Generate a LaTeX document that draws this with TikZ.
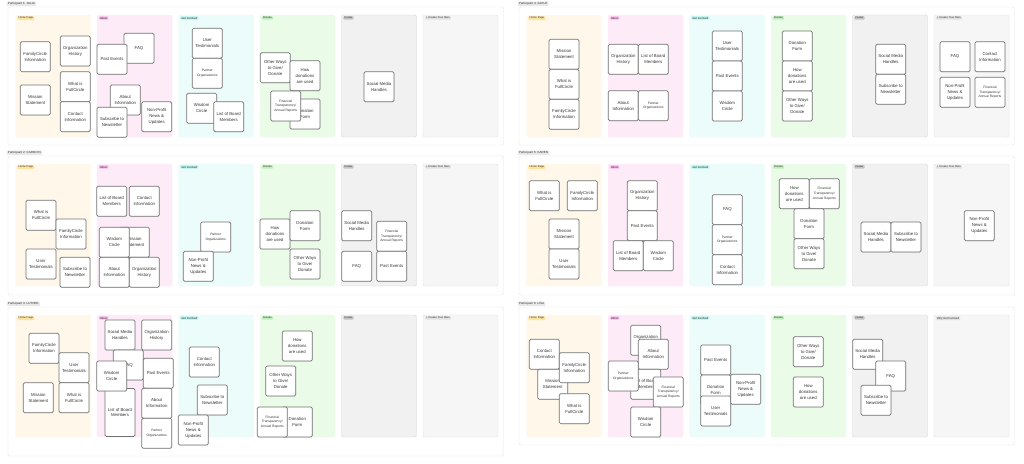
\documentclass[tikz,border=0pt]{standalone}
\usepackage{fontspec}
\setmainfont{Liberation Sans}
\usepackage{tikz}
\usetikzlibrary{shadows}
\definecolor{homefill}{HTML}{FFF8EA}
\definecolor{hometag}{HTML}{FDE49E}
\definecolor{aboutfill}{HTML}{FDEBF8}
\definecolor{abouttag}{HTML}{F6B8E8}
\definecolor{getfill}{HTML}{EBFCFA}
\definecolor{gettag}{HTML}{B6F0EB}
\definecolor{donatefill}{HTML}{EAFBE8}
\definecolor{donatetag}{HTML}{BEEFBB}
\definecolor{footfill}{HTML}{F1F1F1}
\definecolor{footdraw}{HTML}{D6D6D6}
\definecolor{foottag}{HTML}{C4C4C4}
\definecolor{ownfill}{HTML}{F6F6F6}
\definecolor{owndraw}{HTML}{E0E0E0}
\definecolor{owntag}{HTML}{E1E1E1}
\tikzset{
  panelframe/.style = {draw=black!10, fill=white, line width=0.45pt, rounded corners=1.5pt},
  column/.style     = {line width=0.45pt, rounded corners=2pt},
  parttag/.style    = {anchor=north west, fill=black!9, rounded corners=0.8pt,
                       inner xsep=1.3pt, inner ysep=0.7pt, text=black!80,
                       font=\fontsize{3}{3.5}\selectfont},
  coltag/.style     = {anchor=north west, rounded corners=0.8pt, inner xsep=1.1pt,
                       inner ysep=0.6pt, text=black!80, font=\fontsize{2.8}{3}\selectfont},
  card/.style       = {draw=black!55, fill=white, line width=0.7pt, rounded corners=1.4pt,
                       minimum width=30pt, minimum height=30pt, inner sep=0.8pt,
                       align=center, text=black!80, font=\fontsize{4.3}{5.9}\selectfont,
                       drop shadow={shadow xshift=0.3pt, shadow yshift=-0.5pt, opacity=0.2}},
  smallcard/.style  = {card, font=\fontsize{3.3}{4.8}\selectfont}
}
% one participant board: prefix, frame corner, frame height, title, last column
\newcommand{\sortpanel}[6]{%
  \begin{scope}[shift={(#2,#3)}]
    \draw[panelframe] (0,0) rectangle (495.5,#4);
    \node[parttag] (#1-title) at (-1.5,-5.5) {#5};
    \foreach \lbl/\colfill/\coldraw/\coltag [count=\ci from 0] in
      {Home Page/homefill/homefill/hometag, About/aboutfill/aboutfill/abouttag,
       Get Involved/getfill/getfill/gettag, Donate/donatefill/donatefill/donatetag,
       Footer/footfill/footdraw/foottag, {#6}/ownfill/owndraw/owntag}
    {
      \draw[column, fill=\colfill, draw=\coldraw] (7.5+81.5*\ci,8) rectangle ++(75,122);
      \node[coltag, fill=\coltag] (#1-tag\ci) at (9.2+81.5*\ci,9.2) {\lbl};
    }
  \end{scope}}

\begin{document}
\begin{tikzpicture}[x=1pt,y=-1pt]
  \useasboundingbox (0,0) rectangle (1024,463);
  \fill[white] (0,0) rectangle (1024,463);
  % the six boards
  \sortpanel{ju}{8}{7}{138}{Participant 1: JULIA}{+ Create Your Own}
  \sortpanel{ga}{519}{7}{138}{Participant 4: GAYLE}{+ Create Your Own}
  \sortpanel{ca}{8}{156}{139}{Participant 2: CAROLYN}{+ Create Your Own}
  \sortpanel{ka}{519}{156}{139}{Participant 5: KAREN}{+ Create Your Own}
  \sortpanel{lu}{8}{307}{149}{Participant 3: LUTHER}{+ Create Your Own}
  \sortpanel{li}{519}{307}{138}{Participant 6: LISA}{Why Get Involved}

  % JULIA
  \node[card] (ju-fam) at (35.3,56.7) {FamilyCircle\\Information};
  \node[card] (ju-mis) at (35.3,100) {Mission\\Statement};
  \node[card] (ju-org) at (75.3,51) {Organization\\History};
  \node[card] (ju-what) at (75.3,86.7) {What is\\FullCircle};
  \node[card] (ju-con) at (75.3,116.7) {Contact\\Information};
  \node[card] (ju-faq) at (139,48.3) {FAQ};
  \node[card] (ju-past) at (112,59.3) {Past Events};
  \node[card] (ju-about) at (125.3,100) {About\\Information};
  \node[card] (ju-sub) at (112,122.3) {Subscribe to\\Newsletter};
  \node[card] (ju-news) at (156.7,116.7) {Non-Profit\\News \&\\Updates};
  \node[card] (ju-user) at (207.3,43.3) {User\\Testimonials};
  \node[smallcard] (ju-part) at (207.3,73.3) {Partner\\Organizations};
  \node[card] (ju-wis) at (201.7,108.3) {Wisdom\\Circle};
  \node[card] (ju-board) at (228.7,116.7) {List of Board\\Members};
  \node[card] (ju-other) at (275.3,67.7) {Other Ways\\to Give/\\Donate};
  \node[card] (ju-how) at (305,75.7) {How\\donations\\are used};
  \node[card] (ju-form) at (305,114) {Donation\\Form};
  \node[smallcard] (ju-fin) at (285.7,106) {Financial\\Transparency/\\Annual Reports};
  \node[card] (ju-soc) at (379,86.7) {Social Media\\Handles};

  % GAYLE
  \node[card] (ga-mis) at (564,54.3) {Mission\\Statement};
  \node[card] (ga-what) at (564,84.3) {What is\\FullCircle};
  \node[card] (ga-fam) at (564,114.3) {FamilyCircle\\Information};
  \node[card] (ga-org) at (623.3,59.3) {Organization\\History};
  \node[card] (ga-board) at (653.3,59.3) {List of Board\\Members};
  \node[card] (ga-about) at (623.3,105.7) {About\\Information};
  \node[smallcard] (ga-part) at (653.3,105.7) {Partner\\Organizations};
  \node[card] (ga-user) at (727.3,46) {User\\Testimonials};
  \node[card] (ga-past) at (727.3,76) {Past Events};
  \node[card] (ga-wis) at (727.3,106) {Wisdom\\Circle};
  \node[card] (ga-form) at (797.3,46) {Donation\\Form};
  \node[card] (ga-how) at (797.3,76) {How\\donations\\are used};
  \node[card] (ga-other) at (797.3,106) {Other Ways\\to Give/\\Donate};
  \node[card] (ga-soc) at (890.7,59.3) {Social Media\\Handles};
  \node[card] (ga-sub) at (890.7,89.3) {Subscribe to\\Newsletter};
  \node[card] (ga-faq) at (955,56.7) {FAQ};
  \node[card] (ga-con) at (990,56.7) {Contact\\Information};
  \node[card] (ga-news) at (955,92.3) {Non-Profit\\News \&\\Updates};
  \node[smallcard] (ga-fin) at (990,92.3) {Financial\\Transparency/\\Annual Reports};

  % CAROLYN
  \node[card] (ca-what) at (41,215.3) {What is\\FullCircle};
  \node[card] (ca-fam) at (71,234) {FamilyCircle\\Information};
  \node[card] (ca-user) at (41,264) {User\\Testimonials};
  \node[card] (ca-sub) at (75,272.3) {Subscribe to\\Newsletter};
  \node[card] (ca-board) at (111.7,201.3) {List of Board\\Members};
  \node[card] (ca-con) at (144.3,201.3) {Contact\\Information};
  \node[card] (ca-mis) at (134.3,242.3) {Mission\\Statement};
  \node[card] (ca-wis) at (114.3,242.3) {Wisdom\\Circle};
  \node[card] (ca-about) at (114.3,272.3) {About\\Information};
  \node[card] (ca-org) at (144.3,272.3) {Organization\\History};
  \node[smallcard] (ca-part) at (215.7,237) {Partner\\Organizations};
  \node[card] (ca-news) at (198.3,266.3) {Non-Profit\\News \&\\Updates};
  \node[card] (ca-how) at (275,234) {How\\donations\\are used};
  \node[card] (ca-form) at (305,225.7) {Donation\\Form};
  \node[card] (ca-other) at (305,264) {Other Ways\\to Give/\\Donate};
  \node[card] (ca-soc) at (356.7,225.7) {Social Media\\Handles};
  \node[smallcard] (ca-fin) at (391.7,236.3) {Financial\\Transparency/\\Annual Reports};
  \node[card] (ca-faq) at (356.7,266.3) {FAQ};
  \node[card] (ca-past) at (391.7,266.3) {Past Events};

  % KAREN
  \node[card] (ka-what) at (544.3,195.7) {What is\\FullCircle};
  \node[card] (ka-fam) at (582.3,195.7) {FamilyCircle\\Information};
  \node[card] (ka-mis) at (564,234) {Mission\\Statement};
  \node[card] (ka-user) at (564,264) {User\\Testimonials};
  \node[card] (ka-org) at (642.3,195.7) {Organization\\History};
  \node[card] (ka-past) at (642.3,225.7) {Past Events};
  \node[card] (ka-board) at (628.3,255.7) {List of Board\\Members};
  \node[card] (ka-wis) at (658.3,255.7) {Wisdom\\Circle};
  \node[card] (ka-faq) at (727.3,209.7) {FAQ};
  \node[smallcard] (ka-part) at (727.3,239.7) {Partner\\Organizations};
  \node[card] (ka-con) at (727.3,269.7) {Contact\\Information};
  \node[card] (ka-how) at (794.3,193.7) {How\\donations\\are used};
  \node[smallcard] (ka-fin) at (824.3,193.7) {Financial\\Transparency/\\Annual Reports};
  \node[card] (ka-form) at (809,223.7) {Donation\\Form};
  \node[card] (ka-other) at (809,253.7) {Other Ways\\to Give/\\Donate};
  \node[card] (ka-soc) at (876,237) {Social Media\\Handles};
  \node[card] (ka-sub) at (906,237) {Subscribe to\\Newsletter};
  \node[card] (ka-news) at (979.3,225.7) {Non-Profit\\News \&\\Updates};

  % LUTHER
  \node[card] (lu-fam) at (44,348.3) {FamilyCircle\\Information};
  \node[card] (lu-user) at (74,367.7) {User\\Testimonials};
  \node[card] (lu-mis) at (38.3,397.7) {Mission\\Statement};
  \node[card] (lu-what) at (74,397.7) {What is\\FullCircle};
  \node[card] (lu-soc) at (120,335) {Social Media\\Handles};
  \node[card] (lu-org) at (156.7,335) {Organization\\History};
  \node[card] (lu-faq) at (128.3,365) {FAQ};
  \node[card, minimum height=48pt] (lu-board) at (120,412.5) {List of Board\\Members};
  \node[card] (lu-past) at (158.3,373.3) {Past Events};
  \node[card] (lu-about) at (156.7,403.3) {About\\Information};
  \node[smallcard] (lu-part) at (156.7,433.3) {Partner\\Organizations};
  \node[card] (lu-wis) at (111.7,376) {Wisdom\\Circle};
  \node[card] (lu-con) at (204.3,362) {Contact\\Information};
  \node[card] (lu-sub) at (212.3,400) {Subscribe to\\Newsletter};
  \node[card] (lu-news) at (193.3,430) {Non-Profit\\News \&\\Updates};
  \node[card] (lu-how) at (297.3,346) {How\\donations\\are used};
  \node[card] (lu-other) at (280.7,381) {Other Ways\\to Give/\\Donate};
  \node[card] (lu-form) at (297.3,422) {Donation\\Form};
  \node[smallcard] (lu-fin) at (272.3,422) {Financial\\Transparency/\\Annual Reports};

  % LISA
  \node[card] (li-con) at (544.3,354.3) {Contact\\Information};
  \node[card] (li-mis) at (552.7,384.3) {Mission\\Statement};
  \node[card] (li-fam) at (574.3,367.7) {FamilyCircle\\Information};
  \node[card] (li-what) at (574.3,408.7) {What is\\FullCircle};
  \node[card] (li-org) at (645.7,340.3) {Organization\\History};
  \node[card] (li-about) at (653.3,354.3) {About\\Information};
  \node[card] (li-board) at (645.7,384.3) {List of Board\\Members};
  \node[smallcard] (li-part) at (623.3,376) {Partner\\Organizations};
  \node[smallcard] (li-fin) at (668.3,392) {Financial\\Transparency/\\Annual Reports};
  \node[card] (li-wis) at (645.7,422) {Wisdom\\Circle};
  \node[card] (li-past) at (715.7,360) {Past Events};
  \node[card] (li-form) at (715.7,390) {Donation\\Form};
  \node[card] (li-user) at (715.7,411) {User\\Testimonials};
  \node[card] (li-news) at (745.7,389.3) {Non-Profit\\News \&\\Updates};
  \node[card] (li-other) at (808.3,351.7) {Other Ways\\to Give/\\Donate};
  \node[card] (li-how) at (808.3,392) {How\\donations\\are used};
  \node[card] (li-soc) at (867.7,354.3) {Social Media\\Handles};
  \node[card] (li-faq) at (890.7,376) {FAQ};
  \node[card] (li-sub) at (876,400.3) {Subscribe to\\Newsletter};
\end{tikzpicture}
\end{document}
